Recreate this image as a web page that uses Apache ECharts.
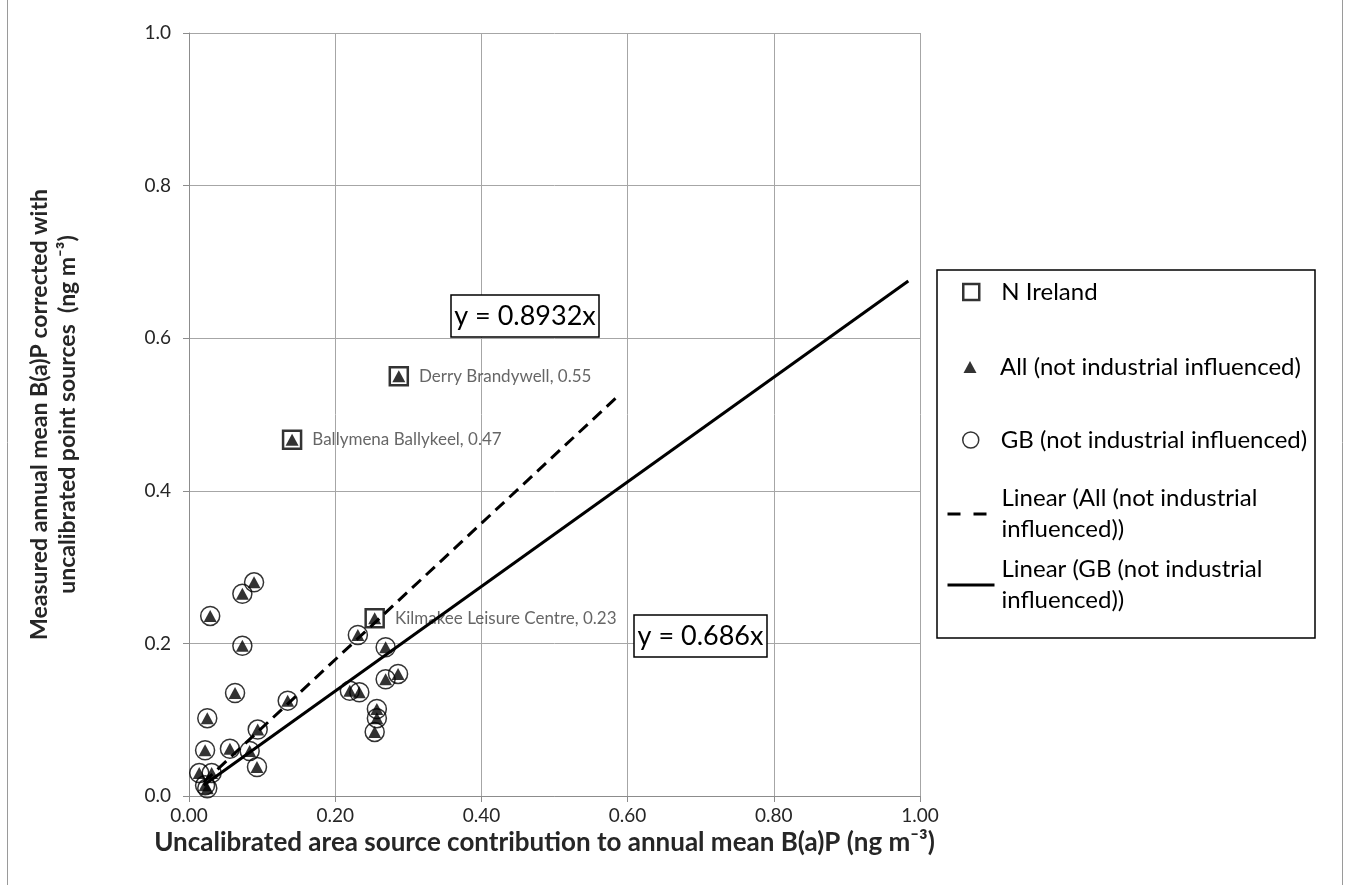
<!DOCTYPE html>
<html>
<head>
<meta charset="utf-8">
<script src="https://cdn.jsdelivr.net/npm/echarts@6/dist/echarts.min.js"></script>
<style>
html,body{margin:0;padding:0;background:#fff;}
#chart{width:1351px;height:885px;}
</style>
</head>
<body>
<div id="chart"></div>
<script>
// ---- data ----
const xTickValues = [0, 0.2, 0.4, 0.6, 0.8, 1.0];
const yTickValues = [0, 0.2, 0.4, 0.6, 0.8, 1.0];

// GB sites (not industrial influenced): x = uncalibrated area source, y = measured
const gbX = [0.231, 0.269, 0.269, 0.286, 0.220, 0.233, 0.257, 0.257, 0.254,
             0.089, 0.073, 0.029, 0.073, 0.063, 0.135, 0.025, 0.094, 0.022,
             0.056, 0.083, 0.093, 0.014, 0.031, 0.025, 0.022];
const gbY = [0.211, 0.195, 0.153, 0.160, 0.138, 0.136, 0.114, 0.102, 0.084,
             0.280, 0.265, 0.236, 0.197, 0.135, 0.125, 0.102, 0.087, 0.060,
             0.062, 0.059, 0.038, 0.030, 0.030, 0.010, 0.014];

// N Ireland sites
const niNames = ['Derry Brandywell', 'Ballymena Ballykeel', 'Kilmakee Leisure Centre'];
const niX = [0.287, 0.141, 0.254];
const niY = [0.55, 0.467, 0.233];

// Trend line end points (as drawn)
const trendAllX = [0.02, 0.59];
const trendAllY = [0.018, 0.527];
const trendGbX = [0.02, 0.984];
const trendGbY = [0.014, 0.675];

const eqAll = 'y = 0.8932x';
const eqGb = 'y = 0.686x';

// ---- build ----
const gbData = gbX.map((x, i) => [x, gbY[i]]);
const niData = niX.map((x, i) => ({ name: niNames[i], value: [x, niY[i]] }));
const allData = gbData.concat(niX.map((x, i) => [x, niY[i]]));
const trendAll = trendAllX.map((x, i) => [x, trendAllY[i]]);
const trendGb = trendGbX.map((x, i) => [x, trendGbY[i]]);

const FONT = 'Lato';
const S_NI = 'N Ireland';
const S_ALL = 'All (not industrial influenced)';
const S_GB = 'GB (not industrial influenced)';
const S_LALL = 'Linear (All (not industrial influenced))';
const S_LGB = 'Linear (GB (not industrial influenced))';

const LEG_TEXT_X = 1000;
const LEG_FS = 24;
const LEG_LH = 31;

// single-line scatter legend entry: icon of size w x h centred at cx, text starting at LEG_TEXT_X
function scatterLegend(name, cx, cy, w, h, itemStyle) {
  const left = cx - w / 2;
  const pad = LEG_TEXT_X - (left + w + 5);
  return {
    data: [name], left: left, top: cy - LEG_LH / 2, padding: 0,
    itemWidth: w, itemHeight: h, selectedMode: false, symbolKeepAspect: true,
    itemStyle: itemStyle,
    textStyle: { fontFamily: FONT, fontSize: LEG_FS, color: '#000', lineHeight: LEG_LH, padding: [0, 0, 0, pad] }
  };
}
// two-line line legend entry: icon aligned with first text line at cy
function lineLegend(name, text, cy, w, lineStyle) {
  const left = 946;
  const pad = LEG_TEXT_X - (left + w + 5);
  return {
    data: [name], left: left, top: cy - 1.5 * LEG_LH, padding: 0,
    itemWidth: w, itemHeight: 14, selectedMode: false,
    formatter: () => text,
    itemStyle: { color: 'transparent', borderColor: 'transparent', borderWidth: 0, opacity: 0 },
    lineStyle: lineStyle,
    textStyle: { fontFamily: FONT, fontSize: LEG_FS, color: '#000', lineHeight: LEG_LH, padding: [LEG_LH, 0, 0, pad] }
  };
}

const chart = echarts.init(document.getElementById('chart'));
const option = {
  animation: false,
  backgroundColor: '#fff',
  grid: { left: 189, right: 431, top: 33, bottom: 89 },
  xAxis: {
    type: 'value', min: 0, max: 1, interval: 0.2,
    axisLine: { show: true, lineStyle: { color: '#8c8c8c', width: 1 } },
    axisTick: { show: true, length: 6, lineStyle: { color: '#8c8c8c' } },
    splitLine: { show: true, lineStyle: { color: '#a6a6a6', width: 1 } },
    axisLabel: { formatter: v => v.toFixed(2), fontFamily: FONT, fontSize: 19, color: '#262626', margin: 10 },
    name: 'Uncalibrated area source contribution to annual mean B(a)P (ng m\u207B\u00B3)',
    nameLocation: 'middle', nameGap: 33,
    nameTextStyle: { fontFamily: FONT, fontWeight: 'bold', fontSize: 26, color: '#262626', padding: [0, 20, 0, 0] }
  },
  yAxis: {
    type: 'value', min: 0, max: 1, interval: 0.2,
    axisLine: { show: true, lineStyle: { color: '#8c8c8c', width: 1 } },
    axisTick: { show: true, length: 6, lineStyle: { color: '#8c8c8c' } },
    splitLine: { show: true, lineStyle: { color: '#a6a6a6', width: 1 } },
    axisLabel: { formatter: v => v.toFixed(1), fontFamily: FONT, fontSize: 19, color: '#262626', margin: 18 },
    name: 'Measured annual mean B(a)P corrected with\nuncalibrated point sources  (ng m\u207B\u00B3)',
    nameLocation: 'middle', nameGap: 107,
    nameTextStyle: { fontFamily: FONT, fontWeight: 'bold', fontSize: 23, color: '#262626', lineHeight: 28 }
  },
  legend: [
    scatterLegend(S_NI, 970, 292, 16, 16, { color: 'transparent', borderColor: '#000', borderWidth: 2.5 }),
    scatterLegend(S_ALL, 970, 367, 13, 12, { color: '#000', borderWidth: 0 }),
    scatterLegend(S_GB, 970, 440, 16, 16, { color: 'transparent', borderColor: '#000', borderWidth: 1.5 }),
    lineLegend(S_LALL, 'Linear (All (not industrial\ninfluenced))', 514, 39, { type: [13, 13], width: 3, color: '#000' }),
    lineLegend(S_LGB, 'Linear (GB (not industrial\ninfluenced))', 585, 47, { type: 'solid', width: 3, color: '#000' })
  ],
  graphic: [
    { type: 'rect', shape: { x: 7.5, y: -5, width: 1335, height: 900 }, style: { fill: 'none', stroke: '#9a9a9a', lineWidth: 1 }, silent: true, z: 0 },
    { type: 'rect', shape: { x: 937, y: 270, width: 378, height: 368 }, style: { fill: 'none', stroke: '#000', lineWidth: 1.5 }, silent: true },
    { type: 'rect', shape: { x: 451, y: 295, width: 148, height: 42 }, style: { fill: '#fff', stroke: '#000', lineWidth: 1.5 }, z: 10 },
    { type: 'text', x: 525, y: 316, style: { text: eqAll, fontFamily: FONT, fontSize: 27, fill: '#000', textAlign: 'center', textVerticalAlign: 'middle' }, z: 11 },
    { type: 'rect', shape: { x: 634, y: 615, width: 133, height: 42 }, style: { fill: '#fff', stroke: '#000', lineWidth: 1.5 }, z: 10 },
    { type: 'text', x: 700.5, y: 636, style: { text: eqGb, fontFamily: FONT, fontSize: 27, fill: '#000', textAlign: 'center', textVerticalAlign: 'middle' }, z: 11 }
  ],
  series: [
    {
      name: S_NI, type: 'scatter', symbol: 'rect', symbolSize: 18, z: 4,
      itemStyle: { color: 'transparent', borderColor: '#000', borderWidth: 2.5 },
      label: {
        show: true, position: 'right', distance: 10,
        formatter: p => p.name + ', ' + p.value[1].toFixed(2),
        fontFamily: FONT, fontSize: 17, color: '#404040'
      },
      emphasis: { disabled: true },
      data: niData
    },
    {
      name: S_ALL, type: 'scatter', symbol: 'triangle', symbolSize: [13, 12], z: 2,
      itemStyle: { color: '#000' }, emphasis: { disabled: true },
      data: allData
    },
    {
      name: S_GB, type: 'scatter', symbol: 'circle', symbolSize: 19, z: 3,
      itemStyle: { color: 'transparent', borderColor: '#000', borderWidth: 1.5 },
      emphasis: { disabled: true },
      data: gbData
    },
    {
      name: S_LALL, type: 'line', symbol: 'none', showSymbol: false, z: 5,
      lineStyle: { color: '#000', width: 3, type: [12, 7] },
      itemStyle: { color: '#000' }, emphasis: { disabled: true },
      data: trendAll
    },
    {
      name: S_LGB, type: 'line', symbol: 'none', showSymbol: false, z: 5,
      lineStyle: { color: '#000', width: 3, type: 'solid' },
      itemStyle: { color: '#000' }, emphasis: { disabled: true },
      data: trendGb
    }
  ]
};
chart.setOption(option);
</script>
</body>
</html>
